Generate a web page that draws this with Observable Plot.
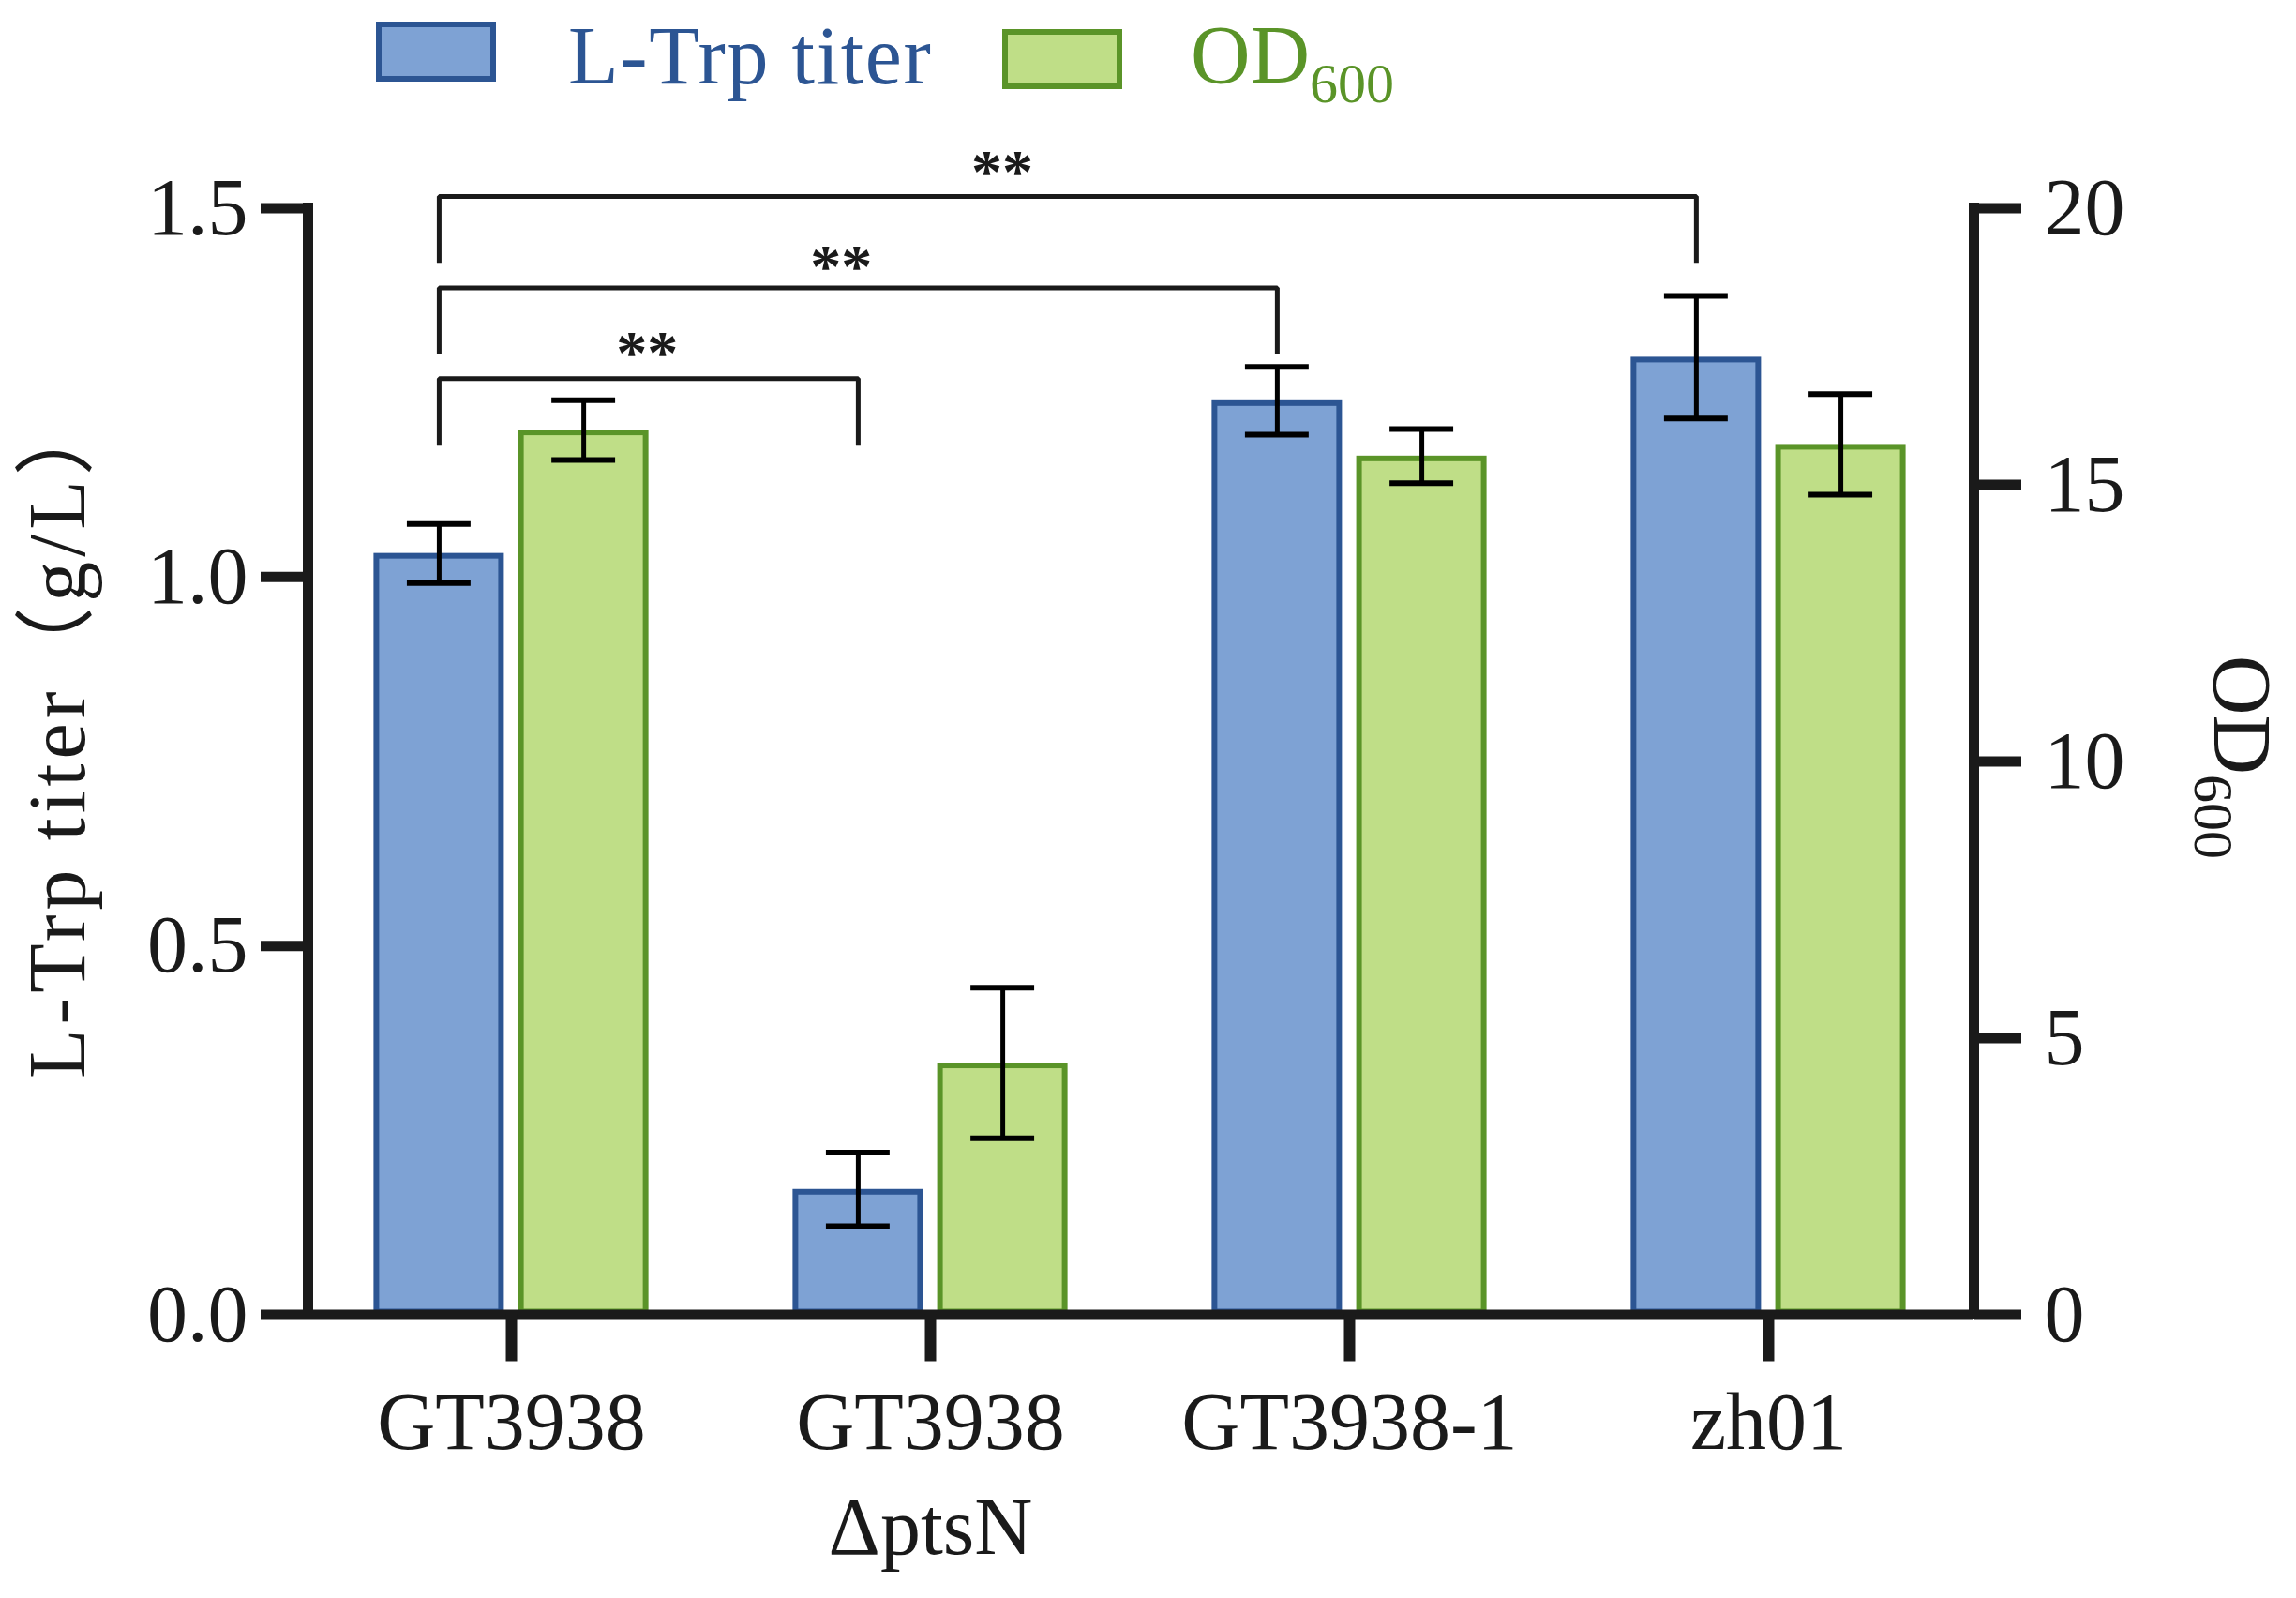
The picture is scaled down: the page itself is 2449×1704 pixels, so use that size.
<!DOCTYPE html>
<html><head><meta charset="utf-8">
<script src="https://cdn.jsdelivr.net/npm/d3@7"></script>
<script src="https://cdn.jsdelivr.net/npm/@observablehq/plot@0.6"></script>
<style>html,body{margin:0;padding:0;background:#fff;overflow:hidden}</style>
</head><body><div id="chart"></div>
<script>
// ---- data ----
const categories = ["GT3938", "GT3938\nΔptsN", "GT3938-1", "zh01"];
const titer = [1.032, 0.170, 1.239, 1.298];      // g/L
const titerErr = [0.040, 0.050, 0.046, 0.083];
const od600 = [15.99, 4.55, 15.52, 15.73];
const od600Err = [0.54, 1.36, 0.49, 0.91];
const titerTicks = [0, 0.5, 1.0, 1.5];
const odTicks = [0, 5, 10, 15, 20];
// significance comparisons: from category -> to category, bracket level (titer units)
const compFrom = [0, 0, 0];
const compTo = [1, 2, 3];
const compLevel = [1.269, 1.392, 1.516];
const compLegEnd = [1.178, 1.302, 1.426];
const compLabel = ["**", "**", "**"];
const compLabelX = [0.324, 0.787, 1.171];
const compLabelY = [1.320, 1.436, 1.565];

// ---- config ----
const TMAX = 1.5, ODMAX = 20, k = TMAX / ODMAX;
const xDomain = [-0.4855, 3.49];
const off = {titer: -0.1725, od: 0.1725};
const half = 0.1555, cap = 0.076;
const ink = "#1a1a1a";
const font = "'Liberation Serif', 'Noto Sans CJK SC', serif";
const blueFill = "#7ea2d4", blueStroke = "#2c5593";
const greenFill = "#bfde87", greenStroke = "#5a9428";

const rows = categories.flatMap((c, i) => [
  {i, s: "titer", v: titer[i], e: titerErr[i]},
  {i, s: "od", v: od600[i] * k, e: od600Err[i] * k}
]);
const capRows = rows.flatMap(d => [{...d, y: d.v - d.e}, {...d, y: d.v + d.e}]);
const bracketPts = compFrom.flatMap((f, j) => {
  const xa = f + off.titer, xb = compTo[j] + off.titer;
  return [
    {id: j, x: xa, y: compLegEnd[j]}, {id: j, x: xa, y: compLevel[j]},
    {id: j, x: xb, y: compLevel[j]}, {id: j, x: xb, y: compLegEnd[j]}
  ];
});
const compRows = compLabel.map((t, j) => ({t, x: compLabelX[j], y: compLabelY[j]}));

const barOpts = (s, fill, stroke) => ({
  filter: d => d.s === s,
  x1: d => d.i + off[d.s] - half, x2: d => d.i + off[d.s] + half,
  y1: 0, y2: "v", fill, stroke, strokeWidth: 6, inset: 3
});

const plot = Plot.plot({
  width: 2449, height: 1704,
  marginLeft: 328, marginRight: 344, marginTop: 221.5, marginBottom: 302.5,
  x: {domain: xDomain},
  y: {domain: [0, TMAX]},
  style: {fontFamily: font, background: "white", color: ink},
  marks: [
    Plot.rectY(rows, barOpts("titer", blueFill, blueStroke)),
    Plot.rectY(rows, barOpts("od", greenFill, greenStroke)),
    Plot.ruleX(rows, {x: d => d.i + off[d.s], y1: d => d.v - d.e, y2: d => d.v + d.e, stroke: "#000", strokeWidth: 5}),
    Plot.ruleY(capRows, {y: "y", x1: d => d.i + off[d.s] - cap, x2: d => d.i + off[d.s] + cap, stroke: "#000", strokeWidth: 6}),
    Plot.line(bracketPts, {x: "x", y: "y", z: "id", stroke: ink, strokeWidth: 5, strokeLinejoin: "miter", strokeLinecap: "butt"}),
    Plot.text(compRows, {x: "x", y: "y", text: "t", fontSize: 66, fontWeight: "bold", fill: ink, lineAnchor: "middle", dy: 13}),
    Plot.ruleX(xDomain, {y1: 0, y2: TMAX, stroke: ink, strokeWidth: 11, strokeLinecap: "square"}),
    Plot.ruleY([0], {stroke: ink, strokeWidth: 11}),
    Plot.axisY({anchor: "left", ticks: titerTicks, tickFormat: d => d.toFixed(1), tickSize: 50, tickPadding: 14,
      strokeWidth: 11, fontSize: 86, color: ink, label: null}),
    Plot.axisY({anchor: "right", ticks: odTicks.map(v => v * k), tickFormat: d => String(Math.round(d / k)),
      tickSize: 50, tickPadding: 25, strokeWidth: 11, fontSize: 86, color: ink, label: null}),
    Plot.axisX({ticks: categories.map((c, i) => i), tickFormat: i => categories[i], tickSize: 50, tickPadding: 14,
      strokeWidth: 12, fontSize: 86, lineHeight: 1.3, color: ink, label: null})
  ]
});
document.getElementById("chart").appendChild(plot);

// ---- titles & legend (real SVG text) ----
const svg = d3.select(plot);
const g = svg.append("g").attr("font-family", font).attr("text-anchor", "start");
// legend
g.append("rect").attr("x", 404).attr("y", 26).attr("width", 122).attr("height", 58)
  .attr("fill", blueFill).attr("stroke", blueStroke).attr("stroke-width", 6);
g.append("text").attr("x", 606).attr("y", 89).attr("font-size", 88).attr("letter-spacing", 1.6)
  .attr("fill", "#2c5593").text("L-Trp titer");
g.append("rect").attr("x", 1072).attr("y", 34).attr("width", 122).attr("height", 58)
  .attr("fill", greenFill).attr("stroke", greenStroke).attr("stroke-width", 6);
const od = g.append("text").attr("x", 1270).attr("y", 88).attr("font-size", 88).attr("fill", "#5a9428");
od.append("tspan").text("OD");
od.append("tspan").attr("font-size", 60).attr("dy", 21).text("600");
// left title
g.append("text").attr("transform", "translate(90,1150) rotate(-90)").attr("font-size", 86)
  .attr("letter-spacing", 5).attr("fill", ink).text("L-Trp titer（g/L）");
// right title
const rt = g.append("text").attr("transform", "translate(2362,699) rotate(90)").attr("font-size", 88).attr("fill", ink);
rt.append("tspan").text("OD");
rt.append("tspan").attr("font-size", 60).attr("dy", 21).text("600");
</script>
</body></html>
